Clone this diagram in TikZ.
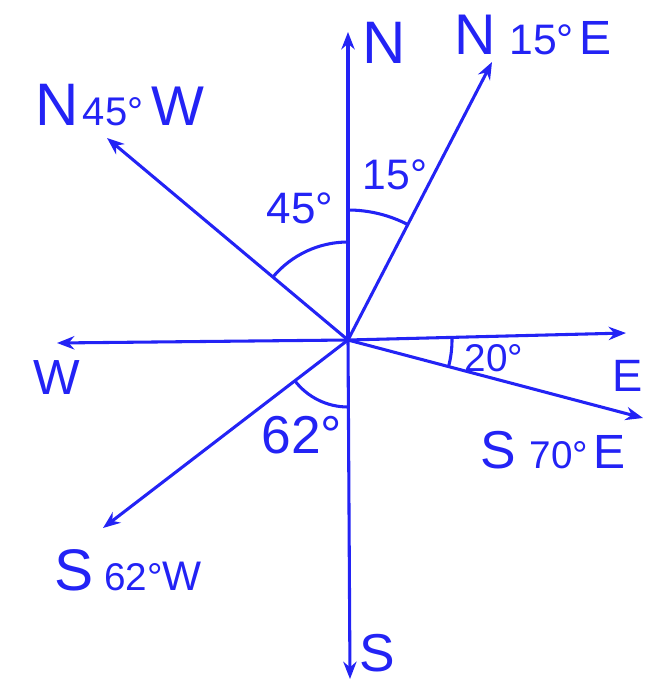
\documentclass[tikz,border=0pt]{standalone}
\usepackage{fontspec}
\setmainfont{Liberation Sans}
\usetikzlibrary{arrows.meta}
\definecolor{ink}{RGB}{35,35,245}
\newcommand\FS[2]{{\fontsize{#1}{#1}\selectfont #2}}
\begin{document}
\begin{tikzpicture}[x=0.75pt,y=-0.75pt,
  vec/.style={draw=ink,line width=2.3pt,-{Stealth[length=13pt,width=10pt]}},
  arcline/.style={draw=ink,line width=2.3pt},
  lbl/.style={text=ink,inner sep=0pt}]
\useasboundingbox (0,0) rectangle (645,682);
\coordinate (O) at (348,340);
\coordinate (Nend) at (348,32);
\coordinate (Send) at (350,679);
\coordinate (Wend) at (57,343);
\coordinate (Eend) at (626,333);
\coordinate (NEend) at (492,62);
\coordinate (NWend) at (107,138);
\coordinate (SEend) at (643,418);
\coordinate (SWend) at (103,528);
% axes and bearings
\draw[vec] (O) -- (Nend);
\draw[vec] (O) -- (Send);
\draw[vec] (O) -- (Wend);
\draw[vec] (O) -- (Eend);
\draw[vec] (O) -- (NEend);
\draw[vec] (O) -- (NWend);
\draw[vec] (O) -- (SEend);
\draw[vec] (O) -- (SWend);
% angle arcs
\draw[arcline] (O) ++(-90:130) arc[start angle=-90,end angle=-62.6,radius=130];
\draw[arcline] (O) ++(-140:98) arc[start angle=-140,end angle=-90,radius=98];
\draw[arcline] (O) ++(-1:104) arc[start angle=-1,end angle=14.8,radius=104];
\draw[arcline] (O) ++(90:67) arc[start angle=90,end angle=142.5,radius=67];
% labels
\node[lbl] (lN) at (384,43) {\FS{45}{N}};
\node[lbl] (lS) at (377,653) {\FS{40}{S}};
\node[lbl] (lW) at (57,378) {\FS{37}{W}};
\node[lbl] (lE) at (628,376) {\FS{34}{E}};
\node[lbl] (lNE) at (533,35) {\FS{43}{N}\hspace{10pt}\FS{32}{15°}\hspace{4pt}\FS{36}{E}};
\node[lbl] (lNW) at (120,105) {\FS{45}{N}\hspace{3pt}\FS{30}{45°}\hspace{6pt}\FS{42}{W}};
\node[lbl] (lSE) at (553,450) {\FS{40}{S}\hspace{10pt}\FS{29}{70°}\hspace{4pt}\FS{36}{E}};
\node[lbl] (lSW) at (128,570) {\FS{44}{S}\hspace{8pt}\FS{29}{62°}\FS{31}{W}};
\node[lbl] (a45) at (300,208) {\FS{33}{45°}};
\node[lbl] (a15) at (395,175) {\FS{32}{15°}};
\node[lbl] (a20) at (494,358) {\FS{29}{20°}};
\node[lbl] (a62) at (302,435) {\FS{40}{62°}};
\end{tikzpicture}
\end{document}
